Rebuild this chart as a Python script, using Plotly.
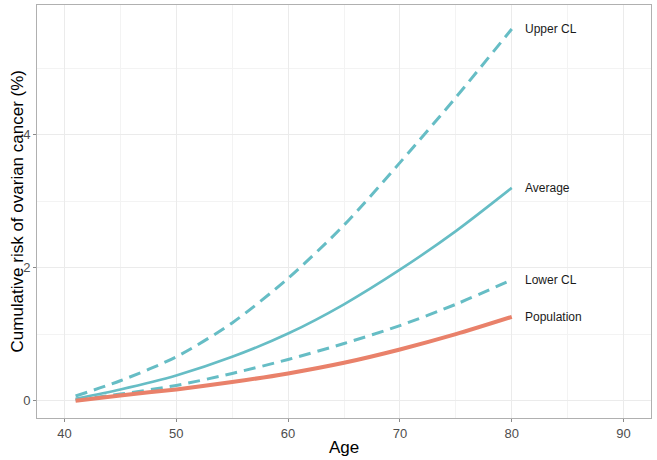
import plotly.graph_objects as go

age = [41, 45, 50, 55, 60, 65, 70, 75, 80]
average = [0.03, 0.17, 0.38, 0.66, 1.01, 1.45, 1.97, 2.55, 3.20]
upper_cl = [0.07, 0.30, 0.66, 1.17, 1.84, 2.64, 3.58, 4.56, 5.59]
lower_cl = [0.01, 0.10, 0.23, 0.41, 0.62, 0.86, 1.13, 1.45, 1.82]
population = [0.00, 0.08, 0.17, 0.28, 0.41, 0.57, 0.77, 1.00, 1.26]

labels = ["Upper CL", "Average", "Lower CL", "Population"]
label_y = [upper_cl[-1], average[-1], lower_cl[-1], population[-1]]

teal = "#66bdc5"
salmon = "#e9816a"
FONT = "Liberation Sans, Arial, sans-serif"

fig = go.Figure()
fig.add_trace(go.Scatter(x=age, y=upper_cl, mode="lines", line=dict(color=teal, width=3, dash="12px,7px", shape="spline", smoothing=0.8)))
fig.add_trace(go.Scatter(x=age, y=lower_cl, mode="lines", line=dict(color=teal, width=3, dash="12px,7px", shape="spline", smoothing=0.8)))
fig.add_trace(go.Scatter(x=age, y=average, mode="lines", line=dict(color=teal, width=2.6, shape="spline", smoothing=0.8)))
fig.add_trace(go.Scatter(x=age, y=population, mode="lines", line=dict(color=salmon, width=4, shape="spline", smoothing=0.8)))

for t, yv in zip(labels, label_y):
    fig.add_annotation(x=81.0, y=yv, text=t, showarrow=False, xanchor="left", yanchor="middle",
                       font=dict(family=FONT, size=12, color="#1a1a1a"))

# axis titles
fig.add_annotation(xref="paper", yref="paper", x=0.5, y=0, yanchor="middle", yshift=-29,
                   text="Age", showarrow=False, font=dict(family=FONT, size=17, color="#000000"))
fig.add_annotation(xref="paper", yref="paper", x=0, y=0.5, xanchor="center", xshift=-20, textangle=-90,
                   text="Cumulative risk of ovarian cancer (%)", showarrow=False,
                   font=dict(family=FONT, size=17, color="#000000"))

axis_common = dict(
    showline=True, linecolor="#b0b0b0", linewidth=1, mirror=True,
    gridcolor="#ebebeb", gridwidth=1, zeroline=False,
    ticks="outside", ticklen=3, tickcolor="#8a8a8a", automargin=False,
    tickfont=dict(family=FONT, size=13, color="#4d4d4d"),
)

fig.update_xaxes(range=[37.55, 92.45], tickvals=[40, 50, 60, 70, 80, 90],
                 minor=dict(tickvals=[45, 55, 65, 75, 85], showgrid=True, gridcolor="#f3f3f3", ticks=""),
                 **axis_common)
fig.update_yaxes(range=[-0.26, 5.95], tickvals=[0, 2, 4],
                 minor=dict(tickvals=[1, 3, 5], showgrid=True, gridcolor="#f3f3f3", ticks=""),
                 **axis_common)

fig.update_layout(
    width=657, height=460,
    margin=dict(l=37, r=6, t=5, b=42),
    plot_bgcolor="white", paper_bgcolor="white",
    showlegend=False,
)

fig.write_html("out.html", config={"displayModeBar": False})

# remove default page margin so the figure sits at the window's top-left corner
with open("out.html", "r", encoding="utf-8") as f:
    html = f.read()
html = html.replace("<head>", "<head><style>html,body{margin:0;padding:0;overflow:hidden;}</style>", 1)
with open("out.html", "w", encoding="utf-8") as f:
    f.write(html)
